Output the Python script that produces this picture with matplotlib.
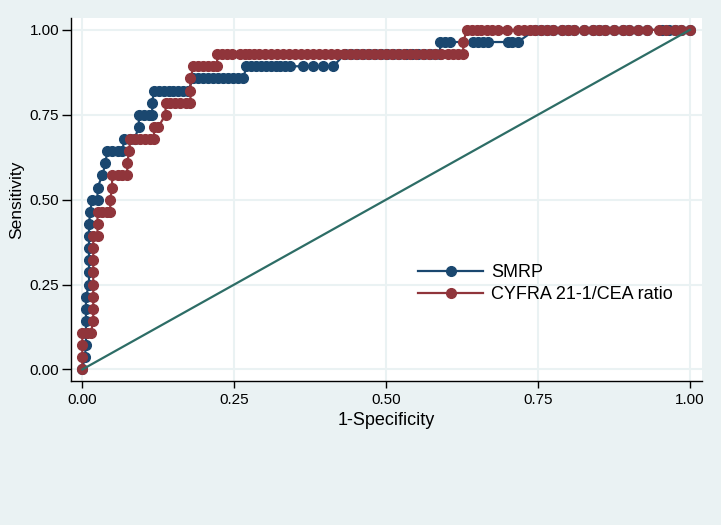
import numpy as np
import matplotlib
matplotlib.use("Agg")
import matplotlib.pyplot as plt

plt.rcParams['font.family'] = ['Liberation Sans', 'DejaVu Sans']

n_pos = 28  # diseased cases, sensitivity moves in steps of 1/28

## SMRP ROC points (1-specificity, true positives)
smrp_fpr = [0.000, 0.004, 0.006, 0.006, 0.006, 0.006, 0.006, 0.011, 0.011, 0.011,
            0.011, 0.011, 0.011, 0.013, 0.016, 0.025, 0.025, 0.033, 0.038, 0.041,
            0.049, 0.058, 0.066, 0.069, 0.078, 0.086, 0.093, 0.093, 0.101, 0.109,
            0.115, 0.115, 0.118, 0.126, 0.134, 0.142, 0.150, 0.158, 0.166, 0.174,
            0.183, 0.191, 0.199, 0.207, 0.215, 0.224, 0.232, 0.240, 0.248, 0.257,
            0.265, 0.270, 0.278, 0.286, 0.294, 0.302, 0.310, 0.318, 0.326, 0.334,
            0.342, 0.363, 0.380, 0.396, 0.413, 0.432, 0.442, 0.452, 0.462, 0.472,
            0.482, 0.492, 0.502, 0.512, 0.522, 0.532, 0.542, 0.552, 0.562, 0.572,
            0.580, 0.589, 0.589, 0.597, 0.605, 0.643, 0.651, 0.659, 0.668, 0.700,
            0.708, 0.717, 0.745, 0.755, 0.765, 0.775, 0.790, 0.800, 0.810, 0.825,
            0.840, 0.850, 0.860, 0.875, 0.890, 0.900, 0.915, 0.930, 0.955, 0.965,
            0.975, 0.985, 1.000]
smrp_tp = [0, 1, 2, 3, 4, 5, 6, 7, 8, 9,
           10, 11, 12, 13, 14, 14, 15, 16, 17, 18,
           18, 18, 18, 19, 19, 19, 20, 21, 21, 21,
           21, 22, 23, 23, 23, 23, 23, 23, 23, 23,
           24, 24, 24, 24, 24, 24, 24, 24, 24, 24,
           24, 25, 25, 25, 25, 25, 25, 25, 25, 25,
           25, 25, 25, 25, 25, 26, 26, 26, 26, 26,
           26, 26, 26, 26, 26, 26, 26, 26, 26, 26,
           26, 26, 27, 27, 27, 27, 27, 27, 27, 27,
           27, 27, 28, 28, 28, 28, 28, 28, 28, 28,
           28, 28, 28, 28, 28, 28, 28, 28, 28, 28,
           28, 28, 28]

## CYFRA 21-1/CEA ratio ROC points
cyfra_fpr = [0.000, 0.000, 0.000, 0.000, 0.007, 0.014, 0.018, 0.018, 0.018, 0.018,
             0.018, 0.018, 0.018, 0.018, 0.025, 0.025, 0.025, 0.033, 0.041, 0.046,
             0.046, 0.049, 0.049, 0.058, 0.066, 0.074, 0.074, 0.077, 0.079, 0.087,
             0.095, 0.103, 0.111, 0.118, 0.118, 0.125, 0.137, 0.137, 0.145, 0.153,
             0.161, 0.170, 0.178, 0.178, 0.178, 0.183, 0.191, 0.199, 0.207, 0.215,
             0.222, 0.222, 0.230, 0.238, 0.246, 0.259, 0.267, 0.275, 0.283, 0.291,
             0.300, 0.310, 0.320, 0.330, 0.340, 0.350, 0.360, 0.370, 0.380, 0.390,
             0.400, 0.410, 0.420, 0.430, 0.440, 0.450, 0.460, 0.470, 0.480, 0.490,
             0.500, 0.510, 0.520, 0.530, 0.540, 0.550, 0.560, 0.570, 0.580, 0.590,
             0.602, 0.611, 0.619, 0.627, 0.627, 0.633, 0.641, 0.649, 0.657, 0.666,
             0.674, 0.684, 0.699, 0.717, 0.727, 0.737, 0.745, 0.755, 0.765, 0.775,
             0.790, 0.800, 0.810, 0.825, 0.840, 0.850, 0.860, 0.875, 0.890, 0.900,
             0.915, 0.930, 0.950, 0.960, 0.975, 0.985, 1.000]
cyfra_tp = [0, 1, 2, 3, 3, 3, 4, 5, 6, 7,
            8, 9, 10, 11, 11, 12, 13, 13, 13, 13,
            14, 15, 16, 16, 16, 16, 17, 18, 19, 19,
            19, 19, 19, 19, 20, 20, 21, 22, 22, 22,
            22, 22, 22, 23, 24, 25, 25, 25, 25, 25,
            25, 26, 26, 26, 26, 26, 26, 26, 26, 26,
            26, 26, 26, 26, 26, 26, 26, 26, 26, 26,
            26, 26, 26, 26, 26, 26, 26, 26, 26, 26,
            26, 26, 26, 26, 26, 26, 26, 26, 26, 26,
            26, 26, 26, 26, 27, 28, 28, 28, 28, 28,
            28, 28, 28, 28, 28, 28, 28, 28, 28, 28,
            28, 28, 28, 28, 28, 28, 28, 28, 28, 28,
            28, 28, 28, 28, 28, 28, 28]

ticks = [0.0, 0.25, 0.5, 0.75, 1.0]
tick_labels = ["0.00", "0.25", "0.50", "0.75", "1.00"]

bg = '#eaf2f3'
navy = '#1a476f'
maroon = '#90353b'
teal = '#2d6d66'

smrp_sens = np.array(smrp_tp) / n_pos
cyfra_sens = np.array(cyfra_tp) / n_pos

fig = plt.figure(figsize=(7.21, 5.25), dpi=100, facecolor=bg)
ax = fig.add_axes([0.0985, 0.2743, 0.8751, 0.6914])
ax.set_facecolor('white')

for x in ticks:
    ax.axvline(x, color=bg, lw=1.5, zorder=0)
    ax.axhline(x, color=bg, lw=1.5, zorder=0)

ax.plot(smrp_fpr, smrp_sens, color=navy, lw=1.6, marker='o', ms=7,
        mec=navy, label="SMRP", zorder=2)
ax.plot(cyfra_fpr, cyfra_sens, color=maroon, lw=1.6, marker='o', ms=7,
        mec=maroon, label="CYFRA 21-1/CEA ratio", zorder=3)
ax.plot([0, 1], [0, 1], color=teal, lw=1.6, zorder=4)

ax.set_xlim(-0.0186, 1.02)
ax.set_ylim(-0.034, 1.035)
ax.set_xticks(ticks)
ax.set_xticklabels(tick_labels)
ax.set_yticks(ticks)
ax.set_yticklabels(tick_labels)
ax.tick_params(axis='x', length=5, width=1, labelsize=11, pad=4)
ax.tick_params(axis='y', length=6.5, width=1, labelsize=11, pad=2)

for s in ['top', 'right']:
    ax.spines[s].set_visible(False)
for s in ['left', 'bottom']:
    ax.spines[s].set_color('black')
    ax.spines[s].set_linewidth(1)

ax.set_xlabel("1-Specificity", fontsize=13, labelpad=3)
ax.set_ylabel("Sensitivity", fontsize=12.5, labelpad=4)

ax.legend(loc='upper left', bbox_to_anchor=(0.536, 0.347), frameon=False,
          fontsize=13, handlelength=3.6, handletextpad=0.45, labelspacing=0.3,
          borderpad=0)

fig.savefig('out.png', dpi=100, facecolor=bg)
